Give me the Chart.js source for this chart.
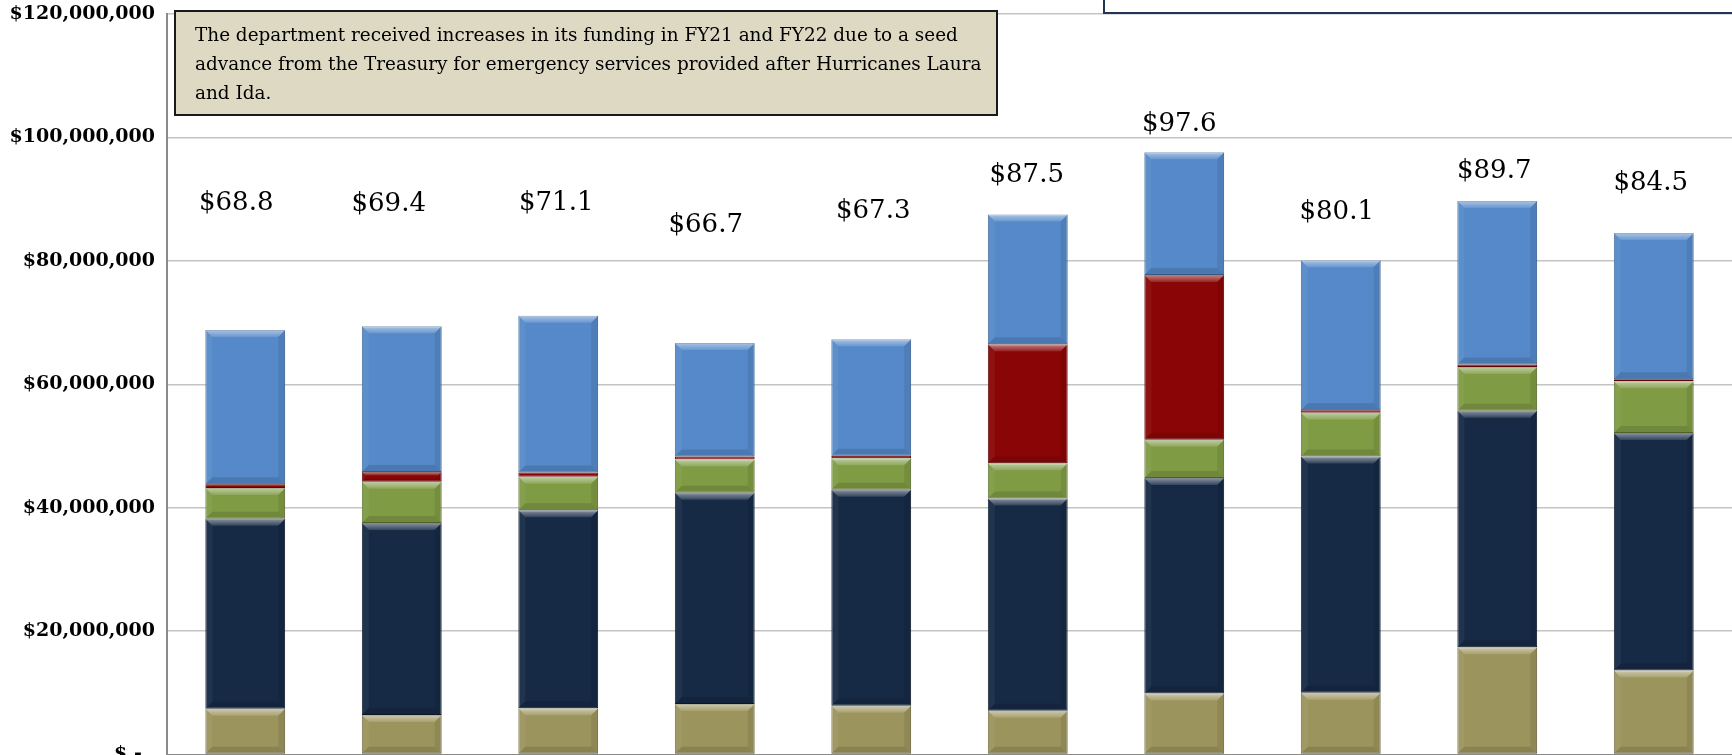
<!DOCTYPE html>
<html>
<head>
<meta charset="utf-8">
<title>Department Funding</title>
<script src="https://cdn.jsdelivr.net/npm/chart.js@4.4.1/dist/chart.umd.min.js"></script>
<style>
    html, body { margin: 0; padding: 0; background: #fff; overflow: hidden; }
    #wrap { position: relative; width: 1732px; height: 755px; overflow: hidden; }
    canvas { display: block; }
</style>
</head>
<body>
<div id="wrap"><canvas id="fundingChart" width="1732" height="800"></canvas></div>
<script>
// values in millions of dollars, bottom segment first
const years = ['FY16', 'FY17', 'FY18', 'FY19', 'FY20', 'FY21', 'FY22', 'FY23', 'FY24', 'FY25'];
const seriesTan = [7.4, 6.4, 7.5, 8.2, 7.9, 7.1, 9.9, 10.0, 17.4, 13.6];
const seriesNavy = [30.8, 31.1, 32.1, 34.2, 35.0, 34.4, 34.9, 38.3, 38.3, 38.5];
const seriesGreen = [5.0, 6.7, 5.4, 5.4, 5.1, 5.7, 6.2, 7.1, 7.1, 8.4];
const seriesRed = [0.6, 1.6, 0.7, 0.5, 0.4, 19.3, 26.7, 0.4, 0.4, 0.3];
const seriesBlue = [25.0, 23.6, 25.4, 18.4, 18.9, 21.0, 19.9, 24.3, 26.5, 23.7];
const tickLabels = ['$ -  ', '$20,000,000', '$40,000,000', '$60,000,000', '$80,000,000', '$100,000,000', '$120,000,000'];
const noteLines = [
    'The department received increases in its funding in FY21 and FY22 due to a seed',
    'advance from the Treasury for emergency services provided after Hurricanes Laura',
    'and Ida.'
];

// total labels were hand placed in the original: lift above bar top and sideways nudge, in px
const labelRaise = [129, 125, 115, 120, 131, 42, 31, 51, 32, 53];
const labelShift = [-9, -13, -2, -9, 2, -1, -5, -4, -3, -3];

const serif = '"DejaVu Serif", "Liberation Serif", serif';

const bevelPlugin = {
    id: 'bevel',
    afterDatasetsDraw(chart) {
        const ctx = chart.ctx;
        chart.data.datasets.forEach((ds, di) => {
            chart.getDatasetMeta(di).data.forEach(bar => {
                const { x, y, base, width } = bar.getProps(['x', 'y', 'base', 'width'], true);
                const left = x - width / 2;
                const right = x + width / 2;
                const top = Math.min(y, base);
                const bottom = Math.max(y, base);
                const h = bottom - top;
                if (h < 6) return;
                const b = Math.min(7, h / 3);
                ctx.save();
                const g = ctx.createLinearGradient(0, top, 0, top + b);
                g.addColorStop(0, 'rgba(255,255,255,0.5)');
                g.addColorStop(1, 'rgba(255,255,255,0.12)');
                ctx.fillStyle = g;
                ctx.beginPath();
                ctx.moveTo(left, top);
                ctx.lineTo(right, top);
                ctx.lineTo(right - b, top + b);
                ctx.lineTo(left + b, top + b);
                ctx.closePath();
                ctx.fill();
                ctx.fillStyle = 'rgba(0,0,0,0.12)';
                ctx.beginPath();
                ctx.moveTo(left, bottom);
                ctx.lineTo(right, bottom);
                ctx.lineTo(right - b, bottom - b);
                ctx.lineTo(left + b, bottom - b);
                ctx.closePath();
                ctx.fill();
                ctx.fillStyle = 'rgba(255,255,255,0.05)';
                ctx.beginPath();
                ctx.moveTo(left, top);
                ctx.lineTo(left + b, top + b);
                ctx.lineTo(left + b, bottom - b);
                ctx.lineTo(left, bottom);
                ctx.closePath();
                ctx.fill();
                ctx.fillStyle = 'rgba(0,0,0,0.08)';
                ctx.beginPath();
                ctx.moveTo(right, top);
                ctx.lineTo(right - b, top + b);
                ctx.lineTo(right - b, bottom - b);
                ctx.lineTo(right, bottom);
                ctx.closePath();
                ctx.fill();
                ctx.restore();
            });
        });
    }
};

const totalsPlugin = {
    id: 'totals',
    afterDatasetsDraw(chart) {
        const ctx = chart.ctx;
        const yScale = chart.scales.y;
        const xScale = chart.scales.x;
        const size = 26;
        ctx.save();
        ctx.font = size + 'px ' + serif;
        ctx.fillStyle = '#000';
        ctx.textAlign = 'center';
        ctx.textBaseline = 'alphabetic';
        years.forEach((yr, i) => {
            const total = seriesTan[i] + seriesNavy[i] + seriesGreen[i] + seriesRed[i] + seriesBlue[i];
            const yTop = yScale.getPixelForValue(total);
            const cx = xScale.getPixelForValue(i) + labelShift[i];
            ctx.fillText('$' + total.toFixed(1), cx, yTop - labelRaise[i] + size * 0.3645);
        });
        ctx.restore();
    }
};

const notePlugin = {
    id: 'note',
    afterDraw(chart) {
        const ctx = chart.ctx;
        ctx.save();
        // box cut off by the top edge (upper right)
        ctx.fillStyle = '#fff';
        ctx.fillRect(1104, -30, 660, 43);
        ctx.strokeStyle = '#1f3552';
        ctx.lineWidth = 2;
        ctx.strokeRect(1104, -30, 660, 43);

        // annotation box
        ctx.fillStyle = '#ddd9c3';
        ctx.fillRect(175, 11, 822, 104);
        ctx.strokeStyle = '#1a1a1a';
        ctx.lineWidth = 2;
        ctx.strokeRect(175, 11, 822, 104);

        ctx.font = '100px ' + serif;
        const size = 100 * 763 / ctx.measureText(noteLines[0]).width;
        ctx.font = size.toFixed(2) + 'px ' + serif;
        ctx.fillStyle = '#000';
        ctx.textAlign = 'left';
        ctx.textBaseline = 'middle';
        noteLines.forEach((line, i) => {
            ctx.fillText(line, 195, 36 + i * 29);
        });
        ctx.restore();
    }
};

document.addEventListener('DOMContentLoaded', () => {
    const ctx = document.getElementById('fundingChart').getContext('2d');

    const makeSet = (label, data, fill, edge) => ({
        label: label,
        data: data,
        backgroundColor: fill,
        borderColor: edge,
        borderWidth: 1,
        borderSkipped: false,
        barPercentage: 0.51,
        categoryPercentage: 1.0
    });

    new Chart(ctx, {
        type: 'bar',
        data: {
            labels: years,
            datasets: [
                makeSet('Series 1', seriesTan, '#9c945d', '#6f6a3e'),
                makeSet('Series 2', seriesNavy, '#162a45', '#0d1a2c'),
                makeSet('Series 3', seriesGreen, '#7f9b44', '#5a6f2f'),
                makeSet('Series 4', seriesRed, '#8a0606', '#5e0505'),
                makeSet('Series 5', seriesBlue, '#5589c9', '#3d6798')
            ]
        },
        options: {
            responsive: false,
            animation: false,
            devicePixelRatio: 1,
            layout: {
                padding: { top: 14, bottom: 15.5, left: 0, right: 0 }
            },
            plugins: {
                legend: { display: false },
                tooltip: { enabled: false }
            },
            scales: {
                x: {
                    stacked: true,
                    grid: { display: false },
                    border: { display: true, color: '#8a8a8a', width: 2 },
                    ticks: { color: '#000', font: { family: serif, size: 16, weight: 'bold' } },
                    afterFit: (scale) => {
                        scale.height = 30;
                        scale.paddingLeft = 0;
                        scale.paddingRight = 0;
                    }
                },
                y: {
                    stacked: true,
                    min: 0,
                    max: 120,
                    grid: { color: '#c4c4c4', lineWidth: 1.5, drawTicks: false },
                    border: { display: true, color: '#8a8a8a', width: 2 },
                    ticks: {
                        stepSize: 20,
                        padding: 12,
                        color: '#000',
                        font: { family: serif, size: 19, weight: 'bold' },
                        callback: (value, index) => tickLabels[index]
                    },
                    afterFit: (scale) => {
                        scale.width = 167;
                        scale.paddingTop = 0;
                        scale.paddingBottom = 0;
                    }
                }
            }
        },
        plugins: [bevelPlugin, totalsPlugin, notePlugin]
    });
});
</script>
</body>
</html>
